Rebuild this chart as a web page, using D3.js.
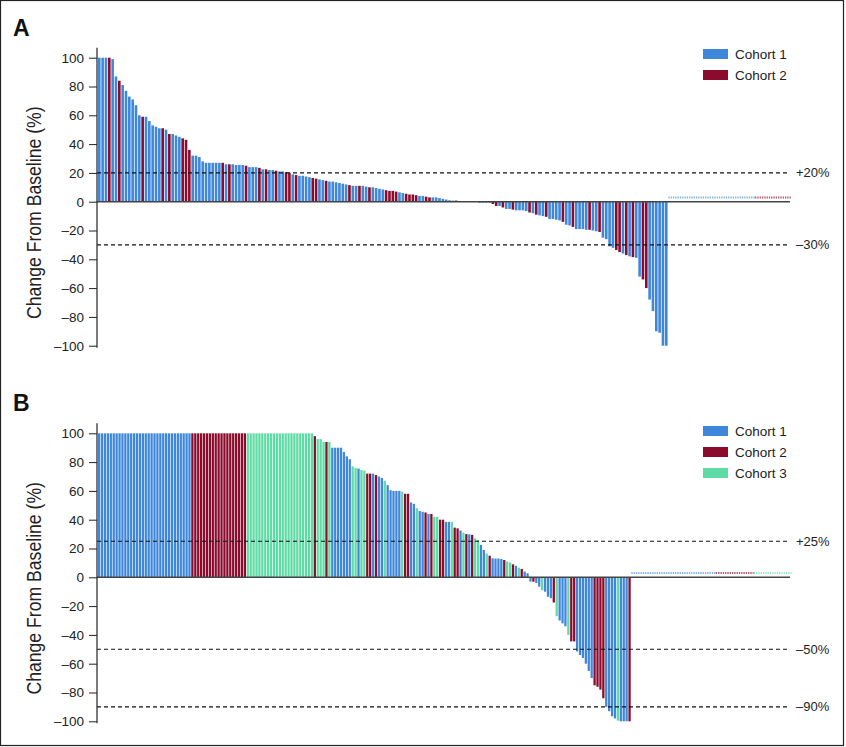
<!DOCTYPE html>
<html>
<head>
<meta charset="utf-8">
<script src="https://cdn.jsdelivr.net/npm/d3@7"></script>
<style>
  body { margin: 0; background: #fff; }
  text { font-family: "Liberation Sans", Arial, sans-serif; }
</style>
</head>
<body>
<script>
// ---- data ----
// panel A: change from baseline per patient, sorted, and the cohort of each bar
var aValues = [
  100,100,100,100,99,87,84,81,77,73, 71,67,60,59,59,56,53,52,51,51,
  50,47,47,46,45,44,43,36,32,32, 31,28,27,27,27,27,27,27,26,26,
  26,25.5,25.5,25.5,25,24,24,24,23.5,22.5, 22.5,22,22,21.5,
  21,21,20.5,20,19,18.5,18,18,17.5,17, 16.5,16,15.5,15,14.5,14,14,13.5,13,12.5,
  12,11.5,11,11,11,11,10.5,10,10,9.5, 9,8.5,8,7.5,7.5,7,6.5,6,5.5,5,
  5,4.5,4,4,3.5,3,3,3,2.5,2, 1.5,1,0.8,0.8,0.5,0.5,0.3,0,0,0,
  -0.7,-0.7,-0.7,-0.7,-1.6,-3,-3,-4,-5,-5, -5.5,-6,-6,-6,-6.5,-7.5,-8,-9,-9.5,-10,
  -10.5,-12,-12,-12.5,-13,-14,-16,-16.5,-17.5,-19, -19,-19,-19.5,-19.5,-20,-20.5,-21,-25,-26,-31,
  -32,-33.5,-35,-36,-37,-38,-38.5,-39,-52,-54, -60,-68,-76,-90,-91,-100,-100
];
var aCohorts = [
  1,1,1,2,1,1,2,1,1,1, 1,1,1,2,1,1,1,1,1,2,
  1,2,1,1,1,2,2,2,1,1, 1,1,1,1,1,1,1,2,1,2,
  1,1,1,1,2,1,1,1,2,1, 2,1,1,2,
  1,1,2,2,1,2,1,1,1,1, 2,2,1,1,2,1,1,1,1,1,
  1,2,1,1,2,1,1,2,1,1, 1,1,2,2,2,2,1,1,2,2,
  2,2,1,1,2,2,1,1,1,1, 1,1,1,2,1,1,1,1,2,1,
  1,1,1,1,2,2,1,2,1,1, 2,1,1,1,1,2,1,2,1,1,
  2,1,1,1,1,2,1,1,2,1, 1,1,1,2,1,1,2,1,1,1,
  1,2,2,1,2,1,2,1,1,2, 2,1,1,1,1,1,1
];
// patients without a post-baseline value, per cohort
var aMissing = [26, 11];

// panel B
var bValues = [
  100,100,100,100,100,100,100,100,100,100, 100,100,100,100,100,100,100,100,100,100,
  100,100,100,100,100,100,100,100,100,100, 100,100,
  100,100,100,100,100,100,100,100,100,100, 100,100,100,100,100,100,100,100,100,
  100,100,100,100,100,100,100,100,100,100, 100,100,100,100,100,100,100,100,100,100, 100,100,100,
  98,96,96,94,94,94,90,90,90,90, 87,84,82,77,76,75.5,74.5,74,72,72,
  72,71,70,69,67,64,60.5,60,60,60, 59.5,58,58,52,51,48,46,45.5,45,44,
  44,42,42,40,40,38.5,38.5,38.5,34.5,34, 32.5,31,30,29.8,29.5,27,26,22.5,19,16.5,
  15,13.2,13,13,12.7,12,11,10.4,9,8, 6.7,5.8,4,2.8,
  -3,-3,-4,-6.5,-9,-10,-13.5,-14.5,-17.5,-27, -30,-32,-34,-40,-44.5,-44.5,-51.5,-54,-56,-60,
  -65,-70,-75,-76,-78,-84,-90,-93,-96.5,-98, -99.5,-100,-100,-100,-100
];
var bCohorts = [
  1,1,1,1,1,1,1,1,1,1, 1,1,1,1,1,1,1,1,1,1,
  1,1,1,1,1,1,1,1,1,1, 1,1,
  2,2,2,2,2,2,2,2,2,2, 2,2,2,2,2,2,2,2,2,
  3,3,3,3,3,3,3,3,3,3, 3,3,3,3,3,3,3,3,3,3, 3,3,3,
  2,3,3,3,2,3,1,1,1,1, 1,1,1,3,3,1,3,3,2,2,
  1,2,1,1,3,1,1,1,1,1, 3,2,2,1,1,3,1,1,2,1,
  2,3,3,2,2,1,1,3,2,2, 1,3,2,1,2,3,3,1,1,3,
  2,1,1,1,1,2,3,3,2,1, 3,2,1,1,
  1,2,1,1,3,1,1,1,2,3, 1,1,1,3,2,2,1,1,1,1,
  1,1,2,2,2,2,1,1,1,1, 3,1,1,1,2
];
var bMissing = [29, 13, 13];

var cohortNames = ["Cohort 1", "Cohort 2", "Cohort 3"];
var colors = {1: "#3f87da", 2: "#8a0b2c", 3: "#5fdba5"};
var lightColors = {1: "#7fb2ea", 2: "#b4566f", 3: "#97e9c4"};

var W = 846, H = 747;
var svg = d3.select("body").append("svg").attr("width", W).attr("height", H);
svg.append("rect").attr("x", 0.5).attr("y", 0.5).attr("width", W - 3).attr("height", H - 2)
  .attr("fill", "#fff").attr("stroke", "#222").attr("stroke-width", 1.2);

function panel(opt) {
  var g = svg.append("g");
  var n = opt.values.length;
  var nMiss = d3.sum(opt.missing);

  var x = d3.scaleBand().domain(d3.range(n + nMiss)).range([98, 791]).paddingInner(0.22);
  var y = d3.scaleLinear().domain([-100, 100]).range([opt.y0 + 144, opt.y0 - 144]);

  // bars
  g.selectAll("rect.bar").data(opt.values).enter().append("rect")
    .attr("class", "bar")
    .attr("x", function(d, i) { return x(i); })
    .attr("width", x.bandwidth())
    .attr("y", function(d) { return d >= 0 ? y(d) : y(0); })
    .attr("height", function(d) { return Math.abs(y(d) - y(0)); })
    .attr("fill", function(d, i) { return colors[opt.cohorts[i]]; });

  // patients with no value: dotted run just above zero
  var start = n;
  opt.missing.forEach(function(m, k) {
    g.append("line")
      .attr("x1", x(start)).attr("x2", x(start + m - 1) + x.step())
      .attr("y1", y(3)).attr("y2", y(3))
      .attr("stroke", lightColors[k + 1]).attr("stroke-width", 2)
      .attr("stroke-dasharray", "1.3,1");
    start += m;
  });

  // zero line
  g.append("line").attr("x1", 97).attr("x2", 790).attr("y1", y(0)).attr("y2", y(0))
    .attr("stroke", "#444").attr("stroke-width", 1.5);

  // reference lines
  opt.refs.forEach(function(r) {
    g.append("line").attr("x1", 97).attr("x2", 787).attr("y1", y(r)).attr("y2", y(r))
      .attr("stroke", "#111").attr("stroke-width", 1.1).attr("stroke-dasharray", "4,3");
    g.append("text").attr("x", 796).attr("y", y(r)).attr("dy", "0.35em")
      .attr("font-size", 13).attr("fill", "#222")
      .text((r > 0 ? "+" : "\u2013") + Math.abs(r) + "%");
  });

  // y axis
  var axis = g.append("g").attr("transform", "translate(97,0)")
    .call(d3.axisLeft(y).tickValues(d3.range(-100, 101, 20)).tickSize(8).tickPadding(5)
      .tickFormat(function(d) { return d < 0 ? "\u2013" + Math.abs(d) : d; }));
  axis.select(".domain").remove();
  axis.selectAll("text").attr("font-size", 13.5).attr("fill", "#222")
    .style("font-family", "'Liberation Sans', Arial, sans-serif");
  axis.selectAll("line").attr("stroke", "#222");
  g.append("line").attr("x1", 97).attr("x2", 97).attr("y1", y(100) - 10).attr("y2", y(-100) + 2)
    .attr("stroke", "#222").attr("stroke-width", 1.2);

  // condensed axis title
  g.append("text")
    .attr("transform", "translate(41," + (y(0) + 11) + ") rotate(-90) scale(0.84,1)")
    .attr("text-anchor", "middle")
    .attr("font-size", 21).attr("fill", "#222")
    .text("Change From Baseline (%)");

  g.append("text").attr("x", 13).attr("y", opt.y0 - 166)
    .attr("font-size", 23).attr("font-weight", "bold").attr("fill", "#111")
    .text(opt.label);

  // legend
  var leg = g.selectAll("g.leg").data(d3.range(opt.missing.length)).enter().append("g")
    .attr("transform", function(k) { return "translate(703," + (opt.legY + k * 21) + ")"; });
  leg.append("rect").attr("width", 25).attr("height", 10).attr("fill", function(k) { return colors[k + 1]; });
  leg.append("text").attr("x", 32).attr("y", 5).attr("dy", "0.35em")
    .attr("font-size", 13.5).attr("fill", "#222")
    .text(function(k) { return cohortNames[k]; });
}

panel({label: "A", values: aValues, cohorts: aCohorts, missing: aMissing,
       y0: 201.7, refs: [20, -30], legY: 49});
panel({label: "B", values: bValues, cohorts: bCohorts, missing: bMissing,
       y0: 577.3, refs: [25, -50, -90], legY: 426});
</script>
</body>
</html>
